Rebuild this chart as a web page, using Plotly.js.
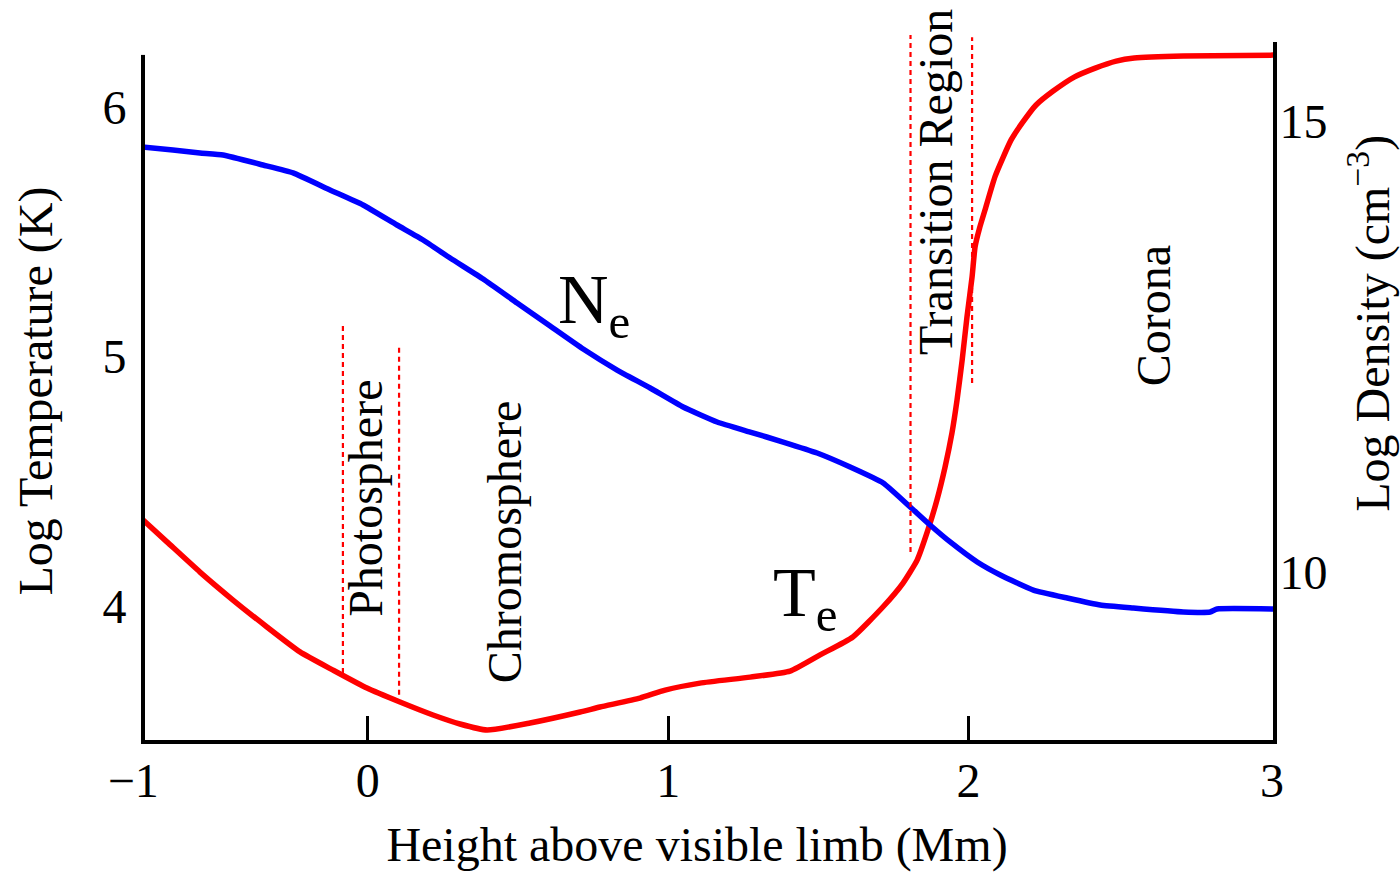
<!DOCTYPE html>
<html>
<head>
<meta charset="utf-8">
<script src="https://cdn.plot.ly/plotly-3.0.1.min.js"></script>
<style>
html,body{margin:0;padding:0;background:#ffffff;}
#chart{width:1400px;height:877px;}
</style>
</head>
<body>
<div id="chart"></div>
<script>
// ---- data ----
// Electron temperature: height (Mm) vs log T (K)
const heightTe = [-0.749, -0.669, -0.559, -0.449, -0.336, -0.226, -0.116, -0.003, 0.107, 0.217,
  0.307, 0.397, 0.540, 0.707, 0.773, 0.906, 0.990, 1.106, 1.273, 1.406,
  1.506, 1.615, 1.715, 1.782, 1.829, 1.865, 1.895, 1.922, 1.945, 1.962,
  1.979, 1.995, 2.012, 2.022, 2.037, 2.055, 2.089, 2.142, 2.179, 2.225,
  2.282, 2.352, 2.422, 2.492, 2.552, 2.715, 3.02];
const logTe = [4.345, 4.257, 4.136, 4.024, 3.916, 3.816, 3.743, 3.671, 3.615, 3.563,
  3.527, 3.503, 3.531, 3.575, 3.595, 3.631, 3.663, 3.691, 3.715, 3.739,
  3.804, 3.876, 3.996, 4.092, 4.184, 4.305, 4.425, 4.557, 4.693, 4.826,
  4.986, 5.158, 5.319, 5.440, 5.515, 5.587, 5.723, 5.868, 5.936, 6.008,
  6.064, 6.120, 6.156, 6.184, 6.196, 6.204, 6.208];

// Electron density: height (Mm) vs log N (cm^-3)
const heightNe = [-0.749, -0.649, -0.559, -0.482, -0.349, -0.249, -0.126, -0.016, 0.097, 0.184,
  0.274, 0.384, 0.497, 0.607, 0.717, 0.830, 0.940, 1.050, 1.163, 1.273,
  1.383, 1.496, 1.606, 1.716, 1.806, 1.872, 1.939, 2.029, 2.106, 2.216,
  2.329, 2.439, 2.549, 2.715, 2.805, 2.828, 3.02];
const logNe = [14.712, 14.678, 14.645, 14.623, 14.512, 14.424, 14.235, 14.069, 13.847, 13.681,
  13.481, 13.248, 12.982, 12.727, 12.472, 12.239, 12.040, 11.829, 11.663, 11.552,
  11.441, 11.319, 11.164, 10.987, 10.721, 10.521, 10.333, 10.111, 9.967, 9.800,
  9.712, 9.634, 9.601, 9.557, 9.557, 9.590, 9.590];

// Region labels and boundaries (Mm)
const regionNames = ['Photosphere', 'Chromosphere', 'Transition Region', 'Corona'];
const regionLabelX = [-0.006, 0.454, 1.892, 2.619];
const boundaryX = [-0.083, 0.104, 1.807, 2.012];

// Tick labels
const xTickVals = [-0.741, 0, 1, 2, 3.011];
const xTickText = ['\u22121\u2002', '0', '1', '2', '3'];
const tempTicks = [4, 5, 6];
const densTicks = [10, 15];

// ---- styling / layout ----
const FONT = 'Liberation Serif, Times New Roman, serif';
const X_RANGE = [-0.742, 3.014];

const regionLabelY = [0.335, 0.275, 0.775, 0.589];
const boundaryY = [[0.093, 0.575], [0.063, 0.546], [0.261, 0.979], [0.496, 0.976]];

const traces = [
  {
    x: heightNe, y: logNe, xaxis: 'x', yaxis: 'y2',
    type: 'scatter', mode: 'lines',
    line: {color: '#0000ff', width: 5.5, shape: 'spline', smoothing: 0.4},
    hoverinfo: 'skip', showlegend: false
  },
  {
    x: heightTe, y: logTe, xaxis: 'x', yaxis: 'y',
    type: 'scatter', mode: 'lines',
    line: {color: '#ff0000', width: 5.5, shape: 'spline', smoothing: 0.5},
    hoverinfo: 'skip', showlegend: false
  }
];

const shapes = boundaryX.map((bx, i) => ({
  type: 'line', xref: 'x', yref: 'paper',
  x0: bx, x1: bx, y0: boundaryY[i][0], y1: boundaryY[i][1],
  line: {color: '#ff0000', width: 2.2, dash: '5px,4px'}
}));
// the left axis line starts a little lower than the right one in the reference
shapes.push({
  type: 'rect', xref: 'paper', yref: 'paper', layer: 'above',
  x0: -0.008, x1: 0.0005, y0: 0.9515, y1: 0.99,
  fillcolor: '#ffffff', line: {width: 0}
});

const annotations = regionNames.map((name, i) => ({
  text: name, xref: 'x', yref: 'paper',
  x: regionLabelX[i], y: regionLabelY[i],
  xanchor: 'center', yanchor: 'middle',
  textangle: -90, showarrow: false,
  font: {family: FONT, size: 48, color: '#000'}
}));
annotations.push({
  text: 'N<sub>e</sub>', xref: 'x', yref: 'paper', x: 0.627, y: 0.604,
  xanchor: 'left', yanchor: 'middle', showarrow: false,
  font: {family: FONT, size: 70, color: '#000'}
});
annotations.push({
  text: 'T<sub>e</sub>', xref: 'x', yref: 'paper', x: 1.343, y: 0.197,
  xanchor: 'left', yanchor: 'middle', showarrow: false,
  font: {family: FONT, size: 70, color: '#000'}
});
annotations.push({
  text: 'Log Density (cm<sup>\u22123</sup>)', xref: 'paper', yref: 'paper',
  x: 1.086, y: 0.578, xanchor: 'center', yanchor: 'middle',
  textangle: -90, showarrow: false,
  font: {family: FONT, size: 48, color: '#000'}
});

const layout = {
  width: 1400, height: 877,
  margin: {l: 145, r: 127, t: 20, b: 137},
  paper_bgcolor: '#ffffff', plot_bgcolor: 'rgba(0,0,0,0)',
  showlegend: false,
  font: {family: FONT, size: 48, color: '#000'},
  xaxis: {
    range: X_RANGE, anchor: 'y',
    tickmode: 'array', tickvals: xTickVals, ticktext: xTickText,
    ticks: 'inside', ticklen: 24, tickwidth: 3, tickcolor: '#000',
    showline: true, linewidth: 4, linecolor: '#000',
    showgrid: false, zeroline: false, ticklabelstandoff: -5,
    tickfont: {family: FONT, size: 48, color: '#000'},
    title: {text: 'Height above visible limb (Mm)\u2002\u2060', standoff: 23,
            font: {family: FONT, size: 48, color: '#000'}}
  },
  yaxis: {
    domain: [0, 0.96944], range: [3.4629, 6.2605], anchor: 'x',
    tickmode: 'array', tickvals: tempTicks,
    ticks: '', showline: true, linewidth: 4, linecolor: '#000',
    showgrid: false, zeroline: false, ticklabelstandoff: 5,
    tickfont: {family: FONT, size: 48, color: '#000'},
    title: {text: 'Log Temperature (K)', standoff: 36,
            font: {family: FONT, size: 48, color: '#000'}}
  },
  yaxis2: {
    domain: [0, 0.96944], range: [8.1375, 15.8758], anchor: 'x', side: 'right',
    overlaying: 'y',
    tickmode: 'array', tickvals: densTicks,
    ticks: '', showline: true, linewidth: 4, linecolor: '#000',
    showgrid: false, zeroline: false, ticklabelstandoff: -7,
    tickfont: {family: FONT, size: 48, color: '#000'}
  },
  shapes: shapes,
  annotations: annotations
};

Plotly.newPlot('chart', traces, layout, {displayModeBar: false, staticPlot: true});
</script>
</body>
</html>
